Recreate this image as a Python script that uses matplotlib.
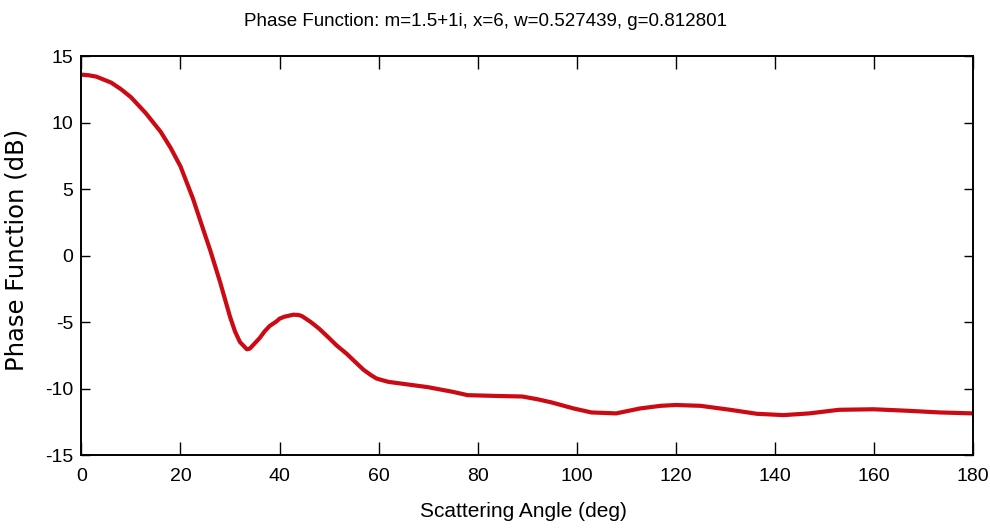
import matplotlib
matplotlib.use("Agg")
import matplotlib.pyplot as plt

angles = [0, 1.5, 3, 6, 8, 10, 13, 16, 18, 20, 22.5, 25, 26, 27, 28, 29, 30, 31, 32,
          33.4, 34, 35, 36, 37, 38, 39.4, 40, 41, 42.8, 43.8, 44.5, 46.2, 47, 48,
          50, 51.5, 53.6, 55, 57, 58.5, 59.6, 61, 62, 65, 70, 75, 78, 84, 89, 92,
          95, 99.4, 103, 108, 112.8, 117, 120, 125, 131, 136.4, 141.8, 147, 153,
          160, 166.7, 173.4, 180]
phase_db = [13.6, 13.55, 13.45, 13.0, 12.5, 11.9, 10.7, 9.3, 8.1, 6.7, 4.3, 1.5,
            0.4, -0.8, -2.0, -3.3, -4.6, -5.7, -6.5, -7.05, -7.0, -6.6, -6.2, -5.7,
            -5.3, -4.95, -4.75, -4.6, -4.45, -4.47, -4.55, -4.97, -5.2, -5.5,
            -6.2, -6.75, -7.4, -7.9, -8.6, -9.0, -9.25, -9.4, -9.5, -9.65, -9.9,
            -10.25, -10.5, -10.56, -10.6, -10.8, -11.05, -11.5, -11.8, -11.87,
            -11.5, -11.3, -11.24, -11.3, -11.6, -11.9, -12.0, -11.87, -11.6,
            -11.56, -11.67, -11.8, -11.87]
xticks = [0, 20, 40, 60, 80, 100, 120, 140, 160, 180]
yticks = [-15, -10, -5, 0, 5, 10, 15]
title = "Phase Function: m=1.5+1i, x=6, w=0.527439, g=0.812801"

narrow = ["Liberation Sans", "DejaVu Sans"]

fig = plt.figure(figsize=(9.9, 5.31), dpi=100)
ax = fig.add_axes([0.0823, 0.1431, 0.9002, 0.7514])
ax.plot(angles, phase_db, color="#cc0a14", lw=3.0, solid_capstyle="round",
        solid_joinstyle="round")
ax.set_xlim(0, 180)
ax.set_ylim(-15, 15)
ax.set_xticks(xticks)
ax.set_yticks(yticks)
ax.set_xticklabels([str(t) for t in xticks], family=narrow, fontsize=14)
ax.set_yticklabels([str(t) for t in yticks], family=narrow, fontsize=14)
ax.tick_params(axis="x", direction="in", length=9.5, width=1.0, top=True, pad=9)
ax.tick_params(axis="y", direction="in", length=6.5, width=1.0, right=True, pad=6)
for s in ax.spines.values():
    s.set_linewidth(1.4)
fig.text(485 / 990, 1 - 22 / 531, title, family=narrow, fontsize=13.5,
         ha="center", va="center")
ax.set_xlabel("Scattering Angle (deg)", family=narrow, fontsize=15)
ax.xaxis.set_label_coords(0.4954, -0.118)
ax.set_ylabel("Phase Function (dB)", family=["DejaVu Sans"], fontsize=17.5)
ax.yaxis.set_label_coords(-0.060, 0.514)
fig.savefig("out.png", dpi=100, facecolor="white")
